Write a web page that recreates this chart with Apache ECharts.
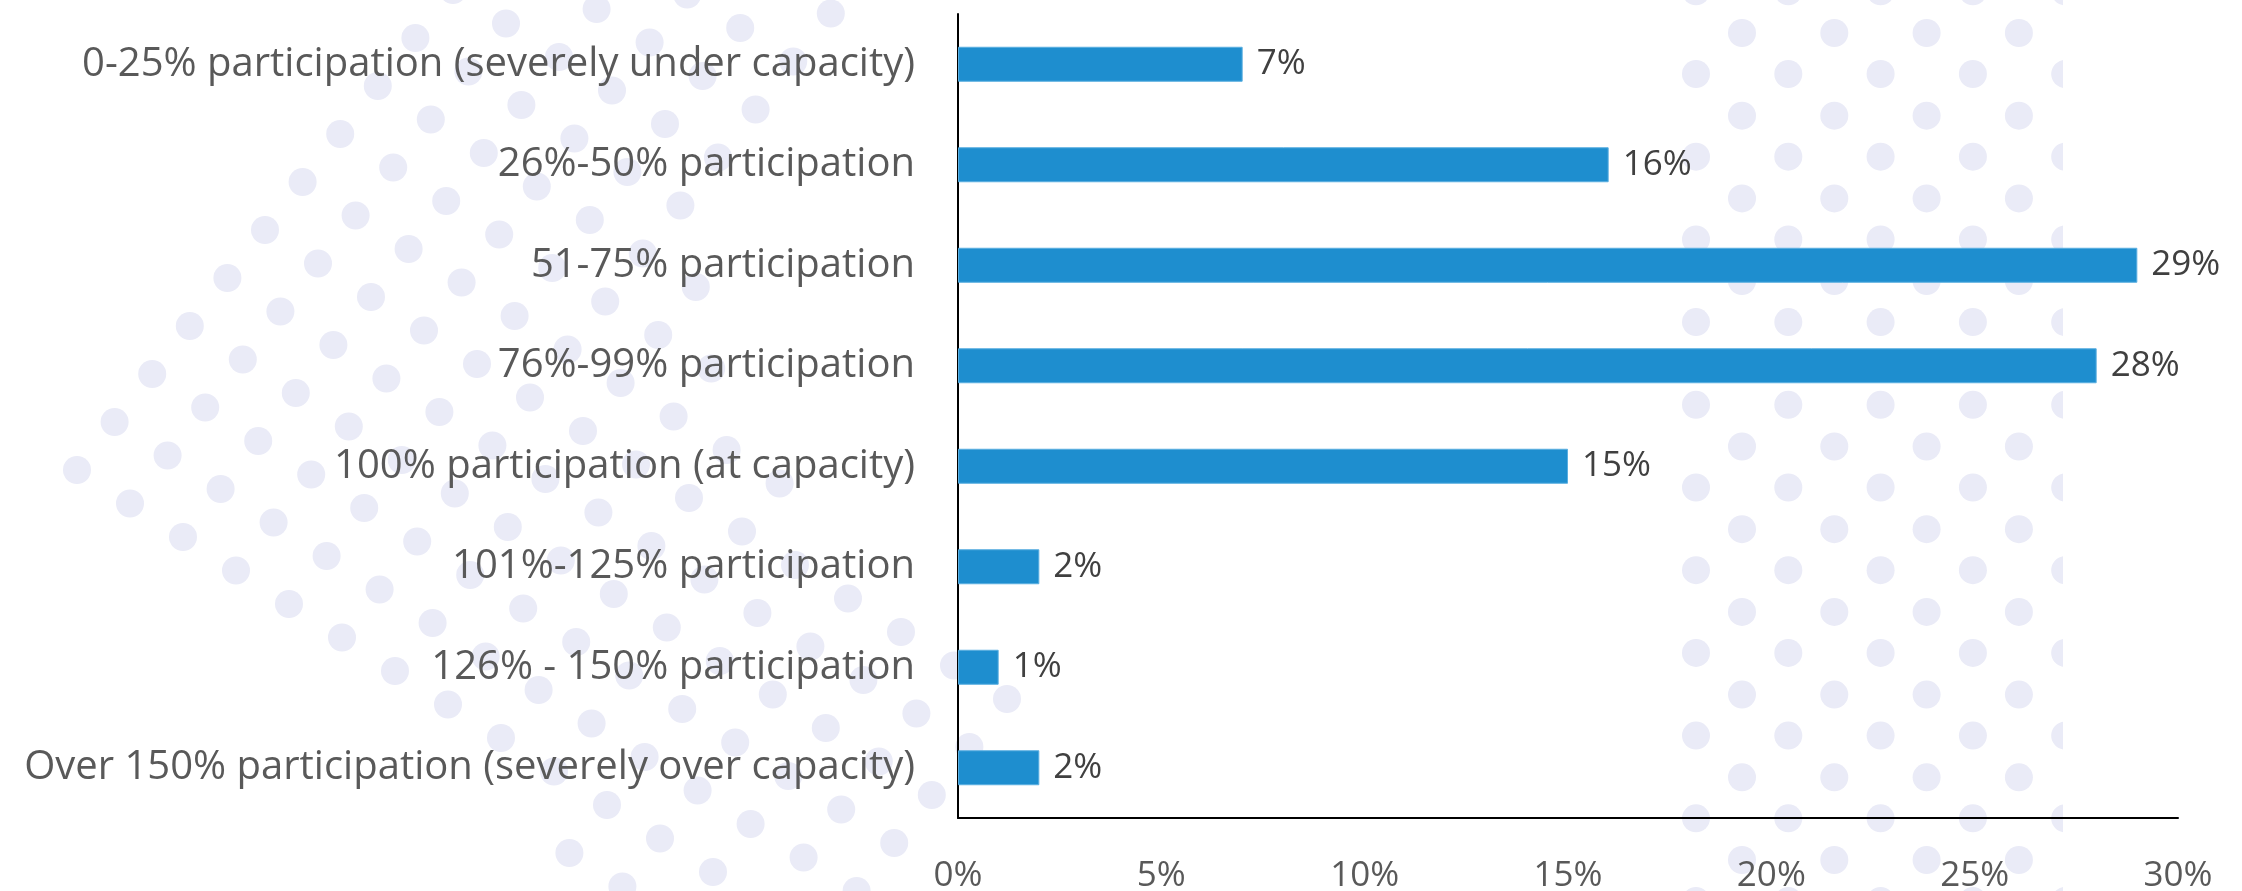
<!DOCTYPE html>
<html>
<head>
<meta charset="utf-8">
<title>Participation vs. capacity</title>
<script src="https://cdn.jsdelivr.net/npm/echarts@6/dist/echarts.min.js"></script>
<style>
  html, body { margin: 0; padding: 0; background: #ffffff; }
  #chart { width: 2242px; height: 891px; }
</style>
</head>
<body>
<div id="chart"></div>
<script>
// Participation bands, top to bottom
const categories = [
  '0-25% participation (severely under capacity)',
  '26%-50% participation',
  '51-75% participation',
  '76%-99% participation',
  '100% participation (at capacity)',
  '101%-125% participation',
  '126% - 150% participation',
  'Over 150% participation (severely over capacity)'
];

// Share of respondents in each band (percent)
const shares = [7, 16, 29, 28, 15, 2, 1, 2];

// Value-axis tick labels
const xTickValues = [0, 5, 10, 15, 20, 25, 30];
const xTickLabels = ['0%', '5%', '10%', '15%', '20%', '25%', '30%'];

const DOT_COLOR = '#eaebf7';
const DOT_R = 14;

// Decorative dot pattern behind the chart
function buildDots() {
  const els = [];
  const dot = (cx, cy) => els.push({
    type: 'circle', silent: true, z: -1,
    shape: { cx: cx, cy: cy, r: DOT_R },
    style: { fill: DOT_COLOR }
  });

  // Right block: staggered grid, cut off on its right edge
  const clipX = 2063;
  for (let m = -1; m <= 10; m++) {
    const yA = 74 + 82.7 * m;
    for (let k = 0; k < 4; k++) dot(1696 + 92.3 * k, yA);
    // last column is sliced by the block edge
    const cx = 1696 + 92.3 * 4, pts = [];
    for (let t = 0; t < 48; t++) {
      const a = t / 48 * Math.PI * 2;
      pts.push([Math.min(cx + DOT_R * Math.cos(a), clipX), yA + DOT_R * Math.sin(a)]);
    }
    els.push({ type: 'polygon', silent: true, z: -1, shape: { points: pts }, style: { fill: DOT_COLOR } });
  }
  for (let m = 0; m <= 10; m++) {
    const yB = 33 + 82.7 * m;
    for (let k = 0; k < 4; k++) dot(1742 + 92.3 * k, yB);
  }

  // Left block: same staggered grid, tilted, forming a wedge
  const ox = 77, oy = 470;
  const ax = 53, ay = 33.5, bx = 37.6, by = -48;
  const maxIFor = j => (j >= 9 ? 5 : j === 8 ? 6 : j === 7 ? 7 : j === 6 ? 9 : 14);
  for (let j = -1; j <= 14; j++) {
    for (let i = 0; i <= 15; i++) {
      if (i > maxIFor(j)) continue;
      if (j < 0 && i < 10) continue;
      const x = ox + ax * i + bx * j;
      const y = oy + ay * i + by * j;
      if (y < -20 || y > 910) continue;
      dot(x, y);
    }
  }
  return els;
}

const chart = echarts.init(document.getElementById('chart'), null, { renderer: 'canvas' });

chart.setOption({
  backgroundColor: '#ffffff',
  animation: false,
  textStyle: { fontFamily: 'Open Sans' },
  graphic: { elements: buildDots() },
  grid: { left: 958, right: 64, top: 14, bottom: 73, containLabel: false, outerBoundsMode: 'none' },
  xAxis: {
    type: 'value',
    min: 0,
    max: 30,
    interval: 5,
    axisLine: { show: true, lineStyle: { color: '#000000', width: 2 } },
    axisTick: { show: false },
    splitLine: { show: false },
    axisLabel: {
      margin: 41,
      fontSize: 35,
      color: '#595959',
      fontFamily: 'Open Sans',
      formatter: v => {
        const idx = xTickValues.indexOf(v);
        return idx >= 0 ? xTickLabels[idx] : '';
      }
    }
  },
  yAxis: {
    type: 'category',
    inverse: true,
    data: categories,
    axisLine: { show: true, lineStyle: { color: '#000000', width: 2 } },
    axisTick: { show: false },
    splitLine: { show: false },
    axisLabel: {
      margin: 43,
      fontSize: 40,
      color: '#595959',
      fontFamily: 'Open Sans'
    }
  },
  series: [{
    type: 'bar',
    data: shares,
    barWidth: 35,
    itemStyle: { color: '#1e8ecf', borderColor: '#5aaee0', borderWidth: 1 },
    label: {
      show: true,
      position: 'right',
      distance: 14,
      fontSize: 35,
      color: '#404040',
      fontFamily: 'Open Sans',
      formatter: p => p.value + '%'
    }
  }]
});
</script>
</body>
</html>
